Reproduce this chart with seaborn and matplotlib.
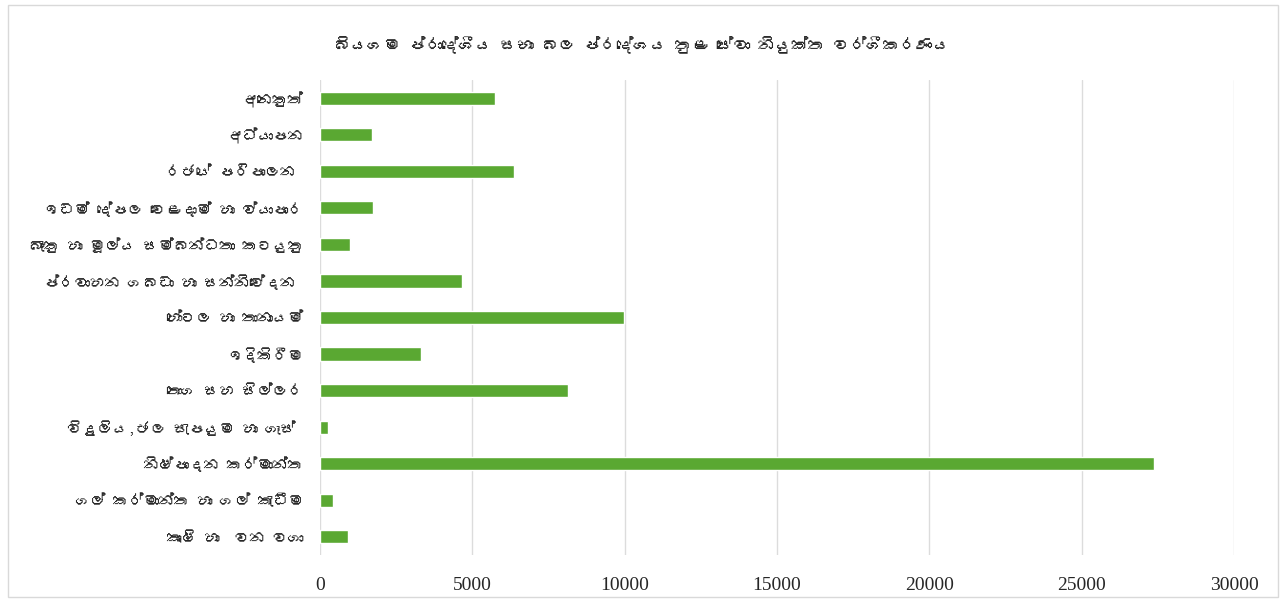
import matplotlib
matplotlib.use('Agg')
import matplotlib.pyplot as plt
import seaborn as sns
import pandas as pd
from matplotlib import font_manager
from matplotlib.ft2font import FT2Font

# දත්ත
categories = [
    'අනෙකුත්',
    'අධ්‍යාපන',
    'රජයේ පරිපාලන ',
    'ඉඩම් දේපල වෙළදාම් හා ව්‍යාපාර',
    'බැංකු හා මූල්‍ය සම්බන්ධතා කටයුතු',
    'ප්‍රවාහන ගබඩා හා සන්නිවේදන ',
    'හෝටල හා තානායම්',
    'ඉදිකිරීම',
    'තොග සහ සිල්ලර',
    'විදුලිය,ජල සැපයුම හා ගෑස් ',
    'නිෂ්පාදන කර්මාන්ත',
    'ගල් කර්මාන්ත හා ගල් කැඩීම',
    'කෘෂි හා  වන වගා',
]
employees = [5750, 1720, 6370, 1740, 1000, 4660, 9980, 3310, 8140, 270, 27360, 440, 910]
x_ticks = [0, 5000, 10000, 15000, 20000, 25000, 30000]
title = 'බියගම ප්‍රාදේශීය සභා බල ප්‍රදේශය තුළ සේවා නියුක්ත වර්ගීකරණය'


# font එකේ ZWJ නැති නිසා පෙන්වීමට පමණක් ඉවත් කරන්න
def show(s):
    return s.replace('\u200d', '')


df = pd.DataFrame({'category': [show(c) for c in categories], 'count': employees})


# සිංහල අකුරු ඇති font එකක් සොයන්න
def find_sinhala_font():
    for f in font_manager.fontManager.ttflist:
        try:
            if 0x0D9A in FT2Font(f.fname).get_charmap():
                return f.name
        except Exception:
            pass
    return None


sns.set_style('white')
sin_font = find_sinhala_font()
families = [sin_font, 'DejaVu Sans'] if sin_font else ['DejaVu Sans']
plt.rcParams['font.family'] = families

fig = plt.figure(figsize=(12.84, 6.01), dpi=100)
ax = fig.add_axes([320 / 1284, 46 / 601, 914 / 1284, 475 / 601])

sns.barplot(data=df, x='count', y='category', color='#5aa832', width=0.36,
            saturation=1, ax=ax, orient='h')

ax.set_xlim(0, 30000)
ax.set_xticks(x_ticks)
ax.set_xticklabels([str(t) for t in x_ticks], family='Liberation Serif', fontsize=14)
ax.tick_params(axis='x', length=0, pad=16)
ax.tick_params(axis='y', length=0, pad=12, labelsize=11)
ax.xaxis.grid(True, color='#dcdcdc', linewidth=1)
ax.set_axisbelow(True)
for s in ax.spines.values():
    s.set_visible(False)
ax.set_xlabel('')
ax.set_ylabel('')

fig.text(0.5, 1 - 45 / 601, show(title), ha='center', va='center', fontsize=12,
         family=families)

# chart border
fig.patches.append(plt.Rectangle((8 / 1284, 4 / 601), 1270 / 1284, 592 / 601,
                                 transform=fig.transFigure, fill=False,
                                 edgecolor='#d9d9d9', linewidth=1))

fig.savefig('out.png', dpi=100)
